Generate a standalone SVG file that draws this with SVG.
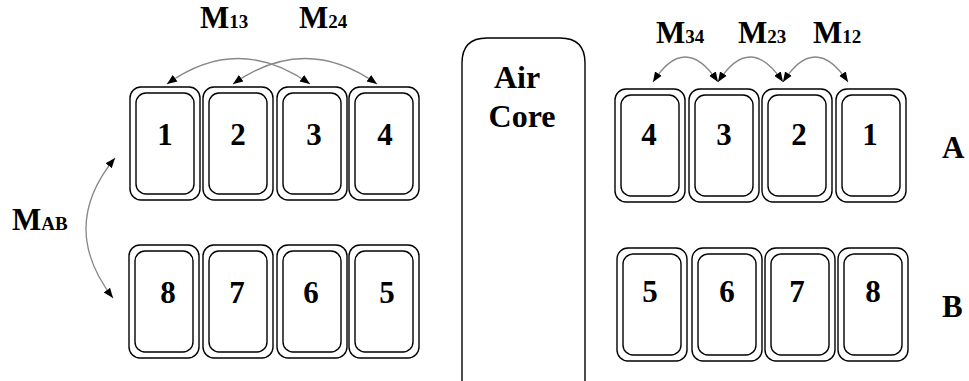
<svg xmlns="http://www.w3.org/2000/svg" width="969" height="381" viewBox="0 0 969 381">
<defs>
<style>
.o{fill:none;stroke:#000;stroke-width:1.4}
.n{font-family:'Liberation Serif','Times New Roman','DejaVu Serif',serif;font-weight:700;font-size:31px;text-anchor:middle;fill:#000}
.m{font-family:'Liberation Serif','Times New Roman','DejaVu Serif',serif;font-weight:700;font-size:31px;fill:#000}
.ac{font-size:32px}
.s{font-size:19px}
.c{fill:none;stroke:#888;stroke-width:1.3}
</style>
<marker id="ah" viewBox="0 0 10 10" refX="10" refY="5" markerWidth="10" markerHeight="10" markerUnits="userSpaceOnUse" orient="auto-start-reverse">
<path d="M0,1 L10,5 L0,9 Z" fill="#000"/>
</marker>
<g id="box">
<rect class="o" x="0" y="0" width="70" height="113" rx="11"/>
<rect class="o" x="6" y="6" width="58" height="101" rx="10"/>
</g>
</defs>
<rect width="969" height="381" fill="#fff"/>

<g id="aircore">
<path class="o" d="M462,381 V63 Q462,38 487,38 H560 Q585,38 585,63 V381"/>
<text class="n ac" x="517" y="88">Air</text>
<text class="n ac" x="522" y="127">Core</text>
</g>

<g id="L1"><use href="#box" x="130" y="87"/><text class="n" x="165" y="145">1</text></g>
<g id="L2"><use href="#box" x="203" y="87"/><text class="n" x="238" y="145">2</text></g>
<g id="L3"><use href="#box" x="277" y="87"/><text class="n" x="314" y="145">3</text></g>
<g id="L4"><use href="#box" x="349" y="87"/><text class="n" x="385" y="145">4</text></g>

<g id="L8"><use href="#box" x="129" y="245"/><text class="n" x="168" y="303">8</text></g>
<g id="L7"><use href="#box" x="203" y="245"/><text class="n" x="237" y="303">7</text></g>
<g id="L6"><use href="#box" x="277" y="245"/><text class="n" x="311" y="303">6</text></g>
<g id="L5"><use href="#box" x="349" y="245"/><text class="n" x="387" y="303">5</text></g>

<g id="R4"><use href="#box" x="615" y="89"/><text class="n" x="649" y="145">4</text></g>
<g id="R3"><use href="#box" x="689" y="89"/><text class="n" x="724" y="145">3</text></g>
<g id="R2"><use href="#box" x="762" y="89"/><text class="n" x="799" y="145">2</text></g>
<g id="R1"><use href="#box" x="836" y="89"/><text class="n" x="870" y="145">1</text></g>

<g id="R5"><use href="#box" x="617" y="248"/><text class="n" x="650" y="302">5</text></g>
<g id="R6"><use href="#box" x="692" y="248"/><text class="n" x="727" y="302">6</text></g>
<g id="R7"><use href="#box" x="765" y="248"/><text class="n" x="797" y="302">7</text></g>
<g id="R8"><use href="#box" x="838" y="248"/><text class="n" x="873" y="302">8</text></g>

<g id="labels">
<text class="m" x="200" y="28">M<tspan class="s">13</tspan></text>
<text class="m" x="299" y="28">M<tspan class="s">24</tspan></text>
<text class="m" x="656" y="43">M<tspan class="s">34</tspan></text>
<text class="m" x="738" y="43">M<tspan class="s">23</tspan></text>
<text class="m" x="813" y="43">M<tspan class="s">12</tspan></text>
<text class="m" x="12" y="230">M<tspan class="s">AB</tspan></text>
<text class="m" x="942" y="158">A</text>
<text class="m" x="942" y="317">B</text>
</g>

<g id="connectors">
<path class="c" d="M167,84 Q238,33 310,84" marker-start="url(#ah)" marker-end="url(#ah)"/>
<path class="c" d="M233,84 Q305,33 377,84" marker-start="url(#ah)" marker-end="url(#ah)"/>
<path class="c" d="M653,82 Q685,32 718,82" marker-start="url(#ah)" marker-end="url(#ah)"/>
<path class="c" d="M718,82 Q750,32 783,82" marker-start="url(#ah)" marker-end="url(#ah)"/>
<path class="c" d="M783,82 Q815,32 848,82" marker-start="url(#ah)" marker-end="url(#ah)"/>
<path class="c" d="M115,158 Q58,227 113,298" marker-start="url(#ah)" marker-end="url(#ah)"/>
</g>
</svg>
